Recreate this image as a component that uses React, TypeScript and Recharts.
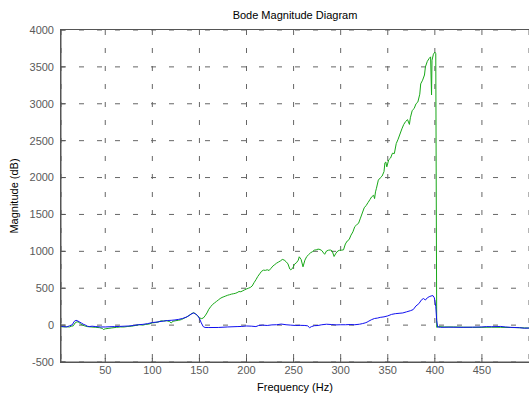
import { LineChart, Line, XAxis, YAxis, CartesianGrid } from "recharts";

// frequency (Hz) / magnitude pairs
const greenFreq = [
  3, 6, 9, 12, 14, 16, 18, 20, 22, 24, 26, 28, 31, 35, 40, 44, 47, 48, 50, 53,
  57, 62, 66, 70, 74, 78, 82, 86, 90, 93, 96, 100, 103, 106, 109, 112, 115, 118, 120, 122,
  125, 128, 131, 134, 137, 140, 142, 144, 146, 148, 150, 152, 154, 156, 158, 160, 162, 164, 166, 168,
  170, 172, 174, 176, 178, 180, 182, 184, 186, 188, 190, 192, 194, 196, 198, 200, 202, 204, 206, 208,
  210, 212, 214, 216, 218, 220, 222, 224, 226, 228, 230, 232, 234, 236, 238, 240, 242, 244, 246, 247,
  249, 251, 253, 255, 256, 258, 260, 262, 264, 266, 268, 270, 272, 274, 276, 278, 280, 282, 283, 285,
  287, 289, 291, 293, 295, 297, 299, 301, 303, 305, 307, 309, 311, 313, 315, 317, 319, 321, 323, 325,
  327, 329, 331, 333, 335, 336, 337, 338, 340, 342, 344, 346, 347, 348, 349, 351, 353, 355, 357, 359,
  361, 363, 365, 367, 369, 371, 373, 374, 376, 378, 380, 382, 384, 385, 387, 389, 390, 392, 394, 395.5,
  396.5, 397, 398.5, 400, 401, 402, 404, 410, 420, 430, 440, 450, 460, 470, 480, 490, 495, 500,
];
const greenMag = [
  -20, -25, -22, -25, -15, -10, 30, 45, 40, 10, 0, -10, -20, -25, -30, -35, -45, -60, -50, -45,
  -38, -30, -25, -25, -18, -15, -5, 5, 0, 10, 12, 30, 35, 40, 58, 55, 60, 50, 30, 52,
  60, 66, 75, 95, 113, 140, 158, 168, 150, 130, 100, 88, 95, 125, 165, 215, 250, 280, 300, 320,
  340, 360, 375, 385, 395, 405, 412, 420, 425, 430, 440, 455, 452, 465, 478, 490, 500, 510, 530, 575,
  615, 660, 695, 730, 745, 742, 750, 740, 770, 800, 820, 840, 855, 870, 890, 882, 860, 830, 760, 750,
  770, 826, 845, 880, 926, 890, 790, 880, 930, 955, 980, 995, 1016, 1020, 1030, 1025, 1010, 975, 960, 1005,
  1015, 1018, 1005, 930, 975, 1005, 1015, 1016, 1020, 1100, 1140, 1160, 1220, 1264, 1335, 1360, 1380, 1450, 1520, 1590,
  1620, 1660, 1700, 1740, 1760, 1715, 1806, 1855, 1965, 1995, 2020, 2080, 2200, 2210, 2145, 2240, 2265, 2330, 2325, 2460,
  2520, 2590, 2660, 2720, 2760, 2785, 2720, 2810, 2910, 2935, 3000, 3025, 3130, 3270, 3320, 3390, 3500, 3575, 3615, 3636,
  3120, 3590, 3672, 3700, 3680, -30, -20, -25, -25, -28, -30, -30, -28, -30, -32, -35, -38, -40,
];

const blueFreq = [
  3, 6, 9, 12, 15, 17, 19, 21, 23, 25, 27, 29, 31, 33, 36, 40, 45, 50, 55, 60,
  65, 70, 75, 80, 85, 90, 95, 100, 104, 108, 112, 116, 120, 124, 128, 132, 136, 139, 142, 144,
  146, 148, 150, 152, 154, 156, 160, 170, 180, 190, 195, 200, 205, 210, 213, 217, 222, 227, 232, 237,
  242, 247, 252, 257, 262, 265, 267, 269, 272, 276, 280, 285, 290, 295, 300, 305, 310, 315, 320, 323,
  326, 328, 330, 333, 336, 339, 342, 346, 350, 354, 358, 362, 366, 370, 374, 377, 380, 383, 386, 388,
  390, 392, 394, 396, 398, 399.5, 401, 402, 403, 406, 415, 430, 440, 450, 455, 460, 470, 475, 480, 490,
  495, 500,
];
const blueMag = [
  -15, -20, -25, -10, 5, 50, 65, 55, 40, 25, 10, 0, -15, -20, -15, -20, -25, -25, -22, -20,
  -18, -15, -12, -5, 5, 10, 20, 35, 40, 48, 55, 62, 65, 70, 78, 90, 108, 130, 155, 165,
  150, 130, 90, 30, -20, -32, -33, -32, -25, -20, -18, -12, -14, -20, -5, 0, -5, 3, 5, 14,
  5, 0, -5, -3, -5, -10, -35, -20, -8, -5, 5, 12, 8, 3, 5, 5, 8, 5, 12, 20,
  30, 40, 55, 75, 90, 95, 105, 112, 125, 145, 155, 160, 165, 180, 195, 210, 260, 290, 345, 360,
  340, 370, 385, 395, 400, 370, 250, 60, -25, -30, -28, -30, -28, -25, -20, -22, -18, -25, -30, -35,
  -42, -40,
];

const xTicks = [50, 100, 150, 200, 250, 300, 350, 400, 450];
const yTicks = [-500, 0, 500, 1000, 1500, 2000, 2500, 3000, 3500, 4000];

const greenData = greenFreq.map((f, i) => ({ f, v: greenMag[i] }));
const blueData = blueFreq.map((f, i) => ({ f, v: blueMag[i] }));

const font = "'Liberation Sans', Arial, sans-serif";
const tickStyle = { fontSize: 11, fill: "#5a5a5a", fontFamily: font };

export default function App() {
  return (
    <div style={{ position: "absolute", left: 0, top: 0, width: 529, height: 397, background: "#fff", fontFamily: font }}>
      <div style={{ position: "absolute", left: 61, width: 468, top: 9, textAlign: "center", fontSize: 11, color: "#000" }}>
        Bode Magnitude Diagram
      </div>
      <div style={{ position: "absolute", left: 61, width: 468, top: 381, textAlign: "center", fontSize: 11, color: "#000" }}>
        Frequency (Hz)
      </div>
      <div
        style={{
          position: "absolute",
          left: 14,
          top: 196,
          fontSize: 11,
          color: "#000",
          whiteSpace: "nowrap",
          transform: "translate(-50%, -50%) rotate(-90deg)",
        }}
      >
        Magnitude (dB)
      </div>
      <LineChart width={529} height={397} margin={{ top: 30, right: 0, bottom: 0, left: 0 }}>
        <CartesianGrid xAxisId="b" stroke="#666" strokeDasharray="5 13" />
        <XAxis
          xAxisId="b"
          type="number"
          dataKey="f"
          domain={[3, 500]}
          ticks={xTicks}
          allowDataOverflow
          height={35}
          tick={tickStyle}
          tickSize={-4}
          tickMargin={8}
          stroke="#555"
        />
        <YAxis
          type="number"
          domain={[-500, 4000]}
          ticks={yTicks}
          allowDataOverflow
          width={61}
          tick={tickStyle}
          tickSize={-4}
          tickMargin={11}
          stroke="#555"
        />
        <Line
          xAxisId="b"
          data={greenData}
          dataKey="v"
          stroke="#18a818"
          strokeWidth={1}
          dot={false}
          isAnimationActive={false}
        />
        <Line
          xAxisId="b"
          data={blueData}
          dataKey="v"
          stroke="#1010f0"
          strokeWidth={1}
          dot={false}
          isAnimationActive={false}
        />
      </LineChart>
      {/* axes box */}
      <div
        style={{
          position: "absolute",
          left: 60,
          top: 29,
          width: 470,
          height: 332,
          border: "1px solid #555",
          pointerEvents: "none",
        }}
      />
    </div>
  );
}
